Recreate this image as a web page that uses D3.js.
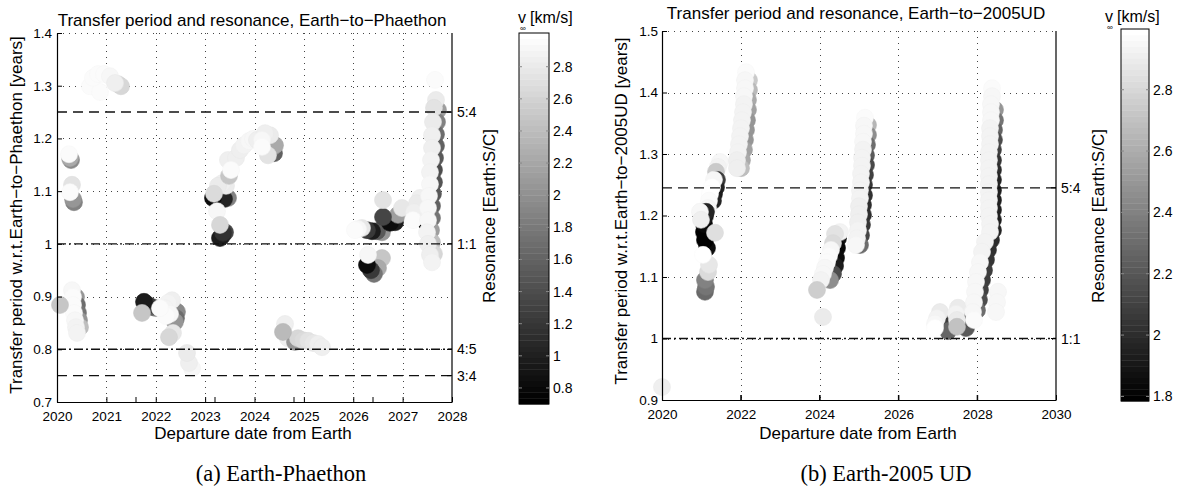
<!DOCTYPE html>
<html><head><meta charset="utf-8">
<script src="https://cdn.jsdelivr.net/npm/d3@7"></script>
<style>
body{margin:0;background:#fff}
svg{display:block}
text{font-family:"Liberation Sans",Arial,Helvetica,sans-serif;fill:#000}
</style>
</head><body>
<svg id="c" width="1182" height="492"></svg>
<script>
// ---------- DATA ----------
// [departure year, transfer period (yr), v_inf (km/s)] in drawing order
const phaethonPts = [
 // ~2021, 1.3
 [2021.235,1.303,2.68],[2021.296,1.299,2.64],[2020.668,1.299,2.97],[2020.871,1.288,2.97],[2020.729,1.315,2.96],[2020.830,1.322,2.96],[2020.952,1.322,2.94],[2021.073,1.318,2.91],[2021.175,1.305,2.86],
 // 2020.25, 1.16
 [2020.284,1.159,1.96],[2020.263,1.163,2.23],[2020.243,1.170,2.96],
 // 2020.3, 1.09
 [2020.344,1.079,1.87],[2020.324,1.085,2.05],[2020.304,1.112,2.73],[2020.263,1.098,2.96],
 // 2023.2, 1.09
 [2023.463,1.087,1.87],[2023.382,1.085,1.06],[2023.159,1.087,0.84],[2023.423,1.110,2.82],[2023.342,1.115,2.86],[2023.261,1.110,2.82],[2023.180,1.095,2.68],
 // 2023.3, 1.02
 [2023.241,1.062,2.91],[2023.403,1.022,1.33],[2023.342,1.015,1.06],[2023.301,1.011,0.97],[2023.362,1.021,1.15],[2023.301,1.036,2.64],
 // 2023.5-2024, 1.13-1.2
 [2023.484,1.129,2.50],[2023.463,1.159,2.86],[2023.625,1.163,2.85],[2023.706,1.178,2.86],[2023.787,1.187,2.88],[2023.889,1.195,2.91],[2023.970,1.199,2.91],[2024.051,1.197,2.86],[2023.524,1.140,2.96],
 // 2024.2-2024.4
 [2024.395,1.172,1.60],[2024.354,1.182,1.87],[2024.415,1.187,2.23],[2024.314,1.206,2.82],[2024.213,1.210,2.86],[2024.152,1.197,2.91],[2024.273,1.168,2.73],[2024.152,1.184,2.96],
 // 2026.0-2026.6, 1.02
 [2026.582,1.022,2.05],[2026.481,1.024,1.51],[2026.380,1.024,0.97],[2026.278,1.026,1.24],[2026.177,1.030,2.77],[2026.096,1.028,2.91],[2026.035,1.026,2.96],
 // 2026.6-2027, 1.04-1.08
 [2026.846,1.041,0.97],[2026.744,1.040,0.84],[2026.906,1.055,2.14],[2026.987,1.068,2.77],[2026.603,1.051,1.33],[2026.603,1.083,2.73],
 // 2027.2-2027.5, 1.04-1.09
 [2027.473,1.041,0.88],[2027.433,1.049,0.97],[2027.514,1.057,1.60],[2027.494,1.068,2.14],[2027.352,1.087,2.86],[2027.291,1.077,2.82],[2027.230,1.060,2.86],[2027.210,1.045,2.94],
 // 2027.6 stack (dark edge)
 [2027.716,1.254,2.14],[2027.696,1.231,1.87],[2027.676,1.208,1.69],[2027.676,1.186,1.60],[2027.656,1.163,1.51],[2027.635,1.140,1.42],[2027.635,1.117,1.47],[2027.615,1.095,1.51],[2027.595,1.072,1.60],[2027.595,1.049,1.78],[2027.575,1.026,2.14],[2027.595,1.003,2.41],[2027.635,0.981,2.64],
 // 2027.6 stack (light)
 [2027.656,1.311,2.94],[2027.676,1.273,2.82],[2027.635,1.258,2.73],[2027.615,1.231,2.82],[2027.595,1.206,2.85],[2027.595,1.182,2.86],[2027.575,1.159,2.88],[2027.554,1.136,2.90],[2027.554,1.113,2.91],[2027.534,1.091,2.92],[2027.514,1.068,2.93],[2027.514,1.045,2.92],[2027.494,1.022,2.89],[2027.514,1.000,2.86],[2027.554,0.979,2.86],[2027.595,0.965,2.88],
 // 2026.3, 0.95
 [2026.582,0.973,2.50],[2026.501,0.954,2.23],[2026.420,0.943,1.78],[2026.359,0.950,1.24],[2026.278,0.960,0.84],[2026.299,0.979,2.91],
 // 2020.3, 0.83-0.91
 [2020.385,0.899,2.05],[2020.405,0.884,1.69],[2020.425,0.869,1.78],[2020.446,0.855,2.05],[2020.466,0.842,2.41],
 [2020.304,0.912,2.91],[2020.324,0.899,2.94],[2020.324,0.884,2.96],[2020.344,0.869,2.94],[2020.365,0.855,2.92],[2020.385,0.842,2.90],[2020.405,0.831,2.88],
 [2020.061,0.884,2.50],
 // 2021.8, 0.88
 [2022.005,0.878,2.14],[2021.924,0.880,1.60],[2021.843,0.884,1.24],[2021.762,0.890,0.97],[2021.722,0.869,2.50],
 // 2022.1-2022.5, 0.85-0.9
 [2022.430,0.871,1.96],[2022.410,0.859,1.69],[2022.390,0.852,2.05],[2022.329,0.893,2.86],[2022.248,0.888,2.88],[2022.187,0.878,2.90],[2022.289,0.867,2.92],[2022.208,0.863,2.94],[2022.086,0.878,2.96],
 // 2022.3, 0.82
 [2022.349,0.831,2.77],[2022.268,0.823,2.64],
 // 2022.7, 0.78
 [2022.734,0.764,2.91],[2022.673,0.774,2.85],[2022.633,0.793,2.82],
 // 2024.6-2025.4, 0.80-0.84
 [2024.618,0.848,2.85],[2024.678,0.821,2.83],[2024.820,0.814,2.05],[2024.881,0.821,2.64],[2024.982,0.817,2.68],[2025.084,0.816,2.75],[2025.185,0.812,2.79],[2025.286,0.810,2.83],[2025.367,0.804,2.86],[2024.577,0.833,2.37]
];
const ud2005Pts = [
 [2020.000,0.921,2.92],
 // 2021 cluster top
 [2021.472,1.287,2.95],[2021.421,1.279,2.93],[2021.371,1.271,2.74],
 [2021.396,1.258,2.07],[2021.371,1.246,1.97],[2021.320,1.235,1.92],[2021.294,1.224,1.97],
 [2021.320,1.258,2.95],[2021.269,1.246,2.98],[2021.218,1.235,2.98],[2021.193,1.224,2.97],[2021.168,1.212,2.95],
 // 2021 dark core
 [2021.142,1.147,1.85],[2021.091,1.160,1.80],[2021.066,1.173,1.80],[2021.066,1.186,1.83],[2021.091,1.199,1.90],[2021.117,1.206,1.97],
 [2020.964,1.206,2.95],[2020.990,1.193,2.92],[2021.345,1.172,2.83],
 // 2021 lower
 [2021.091,1.076,2.28],[2021.117,1.084,2.35],[2021.091,1.095,2.40],[2021.168,1.108,2.81],[2021.193,1.120,2.88],[2021.041,1.136,2.98],
 // 2022 column (shade, then light)
 [2022.208,1.420,2.74],[2022.208,1.404,2.66],[2022.183,1.388,2.59],[2022.183,1.372,2.55],[2022.157,1.355,2.50],[2022.132,1.339,2.50],[2022.107,1.323,2.50],[2022.081,1.307,2.55],[2022.030,1.290,2.59],[2022.005,1.277,2.69],
 [2022.132,1.433,2.97],[2022.107,1.420,2.96],[2022.107,1.407,2.95],[2022.081,1.394,2.95],[2022.081,1.381,2.94],[2022.056,1.368,2.94],[2022.030,1.355,2.94],[2022.005,1.342,2.93],[2021.980,1.329,2.93],[2021.954,1.316,2.93],[2021.929,1.303,2.93],[2021.904,1.290,2.92],[2021.904,1.277,2.91],
 // 2024 cluster
 [2024.468,1.163,1.88],[2024.442,1.147,1.83],[2024.417,1.131,1.85],[2024.392,1.118,1.92],[2024.341,1.105,2.16],[2024.265,1.095,2.45],
 [2024.518,1.173,2.93],[2024.391,1.170,2.86],[2024.340,1.155,2.81],[2024.289,1.144,2.95],[2024.239,1.134,2.97],[2024.188,1.124,2.97],[2024.137,1.115,2.96],[2024.086,1.105,2.95],[2024.036,1.095,2.93],[2023.934,1.079,2.76],[2024.086,1.035,2.89],
 // 2025 column (shade, then light)
 [2025.228,1.347,2.64],[2025.228,1.331,2.45],[2025.203,1.315,2.31],[2025.178,1.298,2.21],[2025.178,1.282,2.14],[2025.152,1.266,2.09],[2025.127,1.250,2.04],[2025.127,1.233,2.02],[2025.102,1.217,2.00],[2025.102,1.201,2.00],[2025.076,1.185,2.04],[2025.051,1.168,2.11],[2025.025,1.152,2.31],
 [2025.152,1.359,2.97],[2025.127,1.346,2.96],[2025.127,1.333,2.95],[2025.102,1.320,2.95],[2025.102,1.307,2.94],[2025.076,1.294,2.94],[2025.076,1.281,2.94],[2025.051,1.268,2.94],[2025.051,1.254,2.93],[2025.025,1.241,2.93],[2025.025,1.228,2.93],[2025.000,1.215,2.92],[2025.000,1.202,2.92],[2024.975,1.189,2.92],[2024.975,1.176,2.93],[2024.949,1.163,2.94],[2024.924,1.152,2.95],
 // 2027 cluster near 1:1
 [2027.310,1.030,2.21],[2027.284,1.020,2.07],[2027.259,1.012,2.26],[2027.766,1.037,2.07],[2027.741,1.027,1.97],[2027.716,1.017,2.21],
 [2027.056,1.043,2.90],[2026.980,1.033,2.93],[2026.929,1.024,2.95],[2026.929,1.017,2.98],
 [2027.513,1.050,2.90],[2027.462,1.040,2.93],[2027.487,1.030,2.90],[2027.487,1.019,2.71],
 // 2028 column (shade, then light)
 [2028.452,1.372,2.50],[2028.452,1.355,2.35],[2028.426,1.339,2.26],[2028.426,1.323,2.16],[2028.401,1.307,2.09],[2028.401,1.290,2.04],[2028.401,1.274,2.00],[2028.401,1.258,1.97],[2028.401,1.241,1.95],[2028.401,1.225,1.95],[2028.401,1.209,1.95],[2028.401,1.193,1.95],[2028.401,1.176,1.97],[2028.350,1.160,2.00],[2028.274,1.144,2.02],[2028.223,1.128,2.04],[2028.173,1.111,2.07],[2028.122,1.095,2.07],[2028.071,1.079,2.09],[2028.046,1.063,2.16],[2027.995,1.046,2.31],
 [2028.376,1.407,2.97],[2028.376,1.394,2.96],[2028.350,1.381,2.95],[2028.350,1.368,2.95],[2028.350,1.355,2.95],[2028.325,1.342,2.94],[2028.325,1.329,2.94],[2028.325,1.316,2.94],[2028.299,1.303,2.94],[2028.299,1.290,2.94],[2028.299,1.277,2.93],[2028.299,1.264,2.93],[2028.299,1.251,2.93],[2028.299,1.238,2.93],[2028.299,1.225,2.93],[2028.299,1.212,2.93],[2028.299,1.199,2.93],[2028.325,1.186,2.93],[2028.325,1.173,2.93],
 [2028.198,1.157,2.94],[2028.122,1.141,2.94],[2028.071,1.124,2.95],[2028.020,1.108,2.95],[2027.970,1.092,2.95],[2027.944,1.076,2.96],[2027.919,1.059,2.96],[2027.893,1.043,2.96],[2027.919,1.030,2.97],
 [2028.528,1.076,2.95],[2028.503,1.059,2.96],[2028.477,1.043,2.96]
];
const phaethonXTicks = [2020,2021,2022,2023,2024,2025,2026,2027,2028];
const phaethonYTicks = [0.7,0.8,0.9,1.0,1.1,1.2,1.3,1.4];
const phaethonResValues = [1.25,1.0,0.8,0.75];
const phaethonResLabels = ["5:4","1:1","4:5","3:4"];
const phaethonCbTicks = [0.8,1,1.2,1.4,1.6,1.8,2,2.2,2.4,2.6,2.8];

const udXTicks = [2020,2022,2024,2026,2028,2030];
const udYTicks = [0.9,1.0,1.1,1.2,1.3,1.4,1.5];
const udResValues = [1.245,1.0];
const udResLabels = ["5:4","1:1"];
const udCbTicks = [1.8,2,2.2,2.4,2.6,2.8];

// ticks of the overlaid (resonance) axes' own x axis, on a 0..1 scale
const resAxisXTicks = [0.2,0.4,0.6,0.8];

const titles = ["Transfer period and resonance, Earth\u2212to\u2212Phaethon","Transfer period and resonance, Earth\u2212to\u22122005UD"];
const yLabels = ["Transfer period w.r.t.Earth\u2212to\u2212Phaethon [years]","Transfer period w.r.t.Earth\u2212to\u22122005UD [years]"];
const captions = ["(a) Earth-Phaethon","(b) Earth-2005 UD"];

// ---------- DRAW ----------
const svg = d3.select("#c");
const dashFor = l => (l === "1:1" || l === "4:5") ? "9,3,2,3" : "10,6";

function grayOf(c, v){
  const t = c(v);
  const k = Math.min(63, Math.floor(t*64));
  const g = Math.round(k/63*255);
  return `rgb(${g},${g},${g})`;
}

function drawPanel(cfg){
  const x = d3.scaleLinear().domain(cfg.xDomain).range([cfg.left, cfg.right]);
  const y = d3.scaleLinear().domain(cfg.yDomain).range([cfg.bottom, cfg.top]);
  const x2 = d3.scaleLinear().domain([0,1]).range([cfg.left, cfg.right]);
  const c = d3.scaleLinear().domain(cfg.cDomain).range([0,1]).clamp(true);
  const g = svg.append("g");
  const px = v => Math.round(v)+0.5;

  // grid (dotted)
  g.append("g").selectAll("line").data(cfg.xTicks.filter(t=>t>cfg.xDomain[0] && t<cfg.xDomain[1])).join("line")
    .attr("x1",d=>px(x(d))).attr("x2",d=>px(x(d))).attr("y1",cfg.top).attr("y2",cfg.bottom)
    .attr("stroke","#444").attr("stroke-width",1).attr("stroke-dasharray","1,5");
  g.append("g").selectAll("line").data(cfg.yTicks.filter(t=>t>cfg.yDomain[0])).join("line")
    .attr("y1",d=>px(y(d))).attr("y2",d=>px(y(d))).attr("x1",cfg.left).attr("x2",cfg.right)
    .attr("stroke","#444").attr("stroke-width",1).attr("stroke-dasharray","1,5");

  // scatter
  g.append("g").selectAll("circle").data(cfg.points).join("circle")
    .attr("cx",d=>x(d[0])).attr("cy",d=>y(d[1])).attr("r",8.5)
    .attr("fill",d=>grayOf(c,d[2]))
    .attr("stroke",d=>d3.color(grayOf(c,d[2])).darker(0.06))
    .attr("stroke-width",0.6);

  // resonance lines
  g.append("g").selectAll("line").data(cfg.resValues).join("line")
    .attr("x1",cfg.left).attr("x2",cfg.right)
    .attr("y1",d=>y(d)).attr("y2",d=>y(d))
    .attr("stroke","#111").attr("stroke-width",1.4)
    .attr("stroke-dasharray",(d,i)=>dashFor(cfg.resLabels[i]));

  // axes
  const fmtY = d => String(+d.toFixed(2));
  const ax = g.append("g").attr("transform",`translate(${cfg.left},0)`)
    .call(d3.axisLeft(y).tickValues(cfg.yTicks).tickSize(-5).tickSizeOuter(0).tickPadding(cfg.yPad).tickFormat(fmtY));
  const bx = g.append("g").attr("transform",`translate(0,${cfg.bottom})`)
    .call(d3.axisBottom(x).tickValues(cfg.xTicks).tickSize(-5).tickSizeOuter(0).tickPadding(cfg.xPad).tickFormat(d3.format("d")));
  [ax,bx].forEach(a=>{
    a.attr("font-family",null).attr("font-size",null);
    a.selectAll("text").attr("font-size","13.5px");
    a.select(".domain").attr("stroke","#000").attr("stroke-width",1.2);
    a.selectAll(".tick line").attr("stroke","#000");
  });
  // overlaid axes' bottom ticks
  g.append("g").selectAll("line").data(resAxisXTicks).join("line")
    .attr("x1",d=>x2(d)).attr("x2",d=>x2(d)).attr("y1",cfg.bottom).attr("y2",cfg.bottom-5).attr("stroke","#000");

  // right resonance axis
  g.append("line").attr("x1",cfg.right).attr("x2",cfg.right).attr("y1",cfg.top).attr("y2",cfg.bottom)
    .attr("stroke","#000").attr("stroke-width",1.2);
  g.append("g").selectAll("line").data(cfg.resValues).join("line")
    .attr("x1",cfg.right-5).attr("x2",cfg.right).attr("y1",d=>y(d)).attr("y2",d=>y(d)).attr("stroke","#000");
  g.append("g").selectAll("text").data(cfg.resValues).join("text")
    .attr("x",cfg.right+5).attr("y",d=>y(d)).attr("dy","0.36em").attr("font-size","14px")
    .text((d,i)=>cfg.resLabels[i]);

  // labels
  g.append("text").attr("x",cfg.titleX).attr("y",cfg.titleY).attr("text-anchor","middle").attr("font-size","17px").text(cfg.title);
  g.append("text").attr("x",cfg.xLabelX).attr("y",439).attr("text-anchor","middle").attr("font-size","17px").text("Departure date from Earth");
  g.append("text").attr("transform",`translate(${cfg.yLabelX},${cfg.yLabelY}) rotate(-90)`).attr("text-anchor","middle").attr("font-size","17px").text(cfg.yLabel);
  g.append("text").attr("transform",`translate(${cfg.resLabelX},216) rotate(-90)`).attr("text-anchor","middle").attr("font-size","17px").text("Resonance [Earth:S/C]");
  g.append("text").attr("x",cfg.captionX).attr("y",481).attr("text-anchor","middle")
    .style("font-family","'Liberation Serif','Times New Roman',serif").attr("font-size","22.5px").text(cfg.caption);

  // colorbar
  const cy = d3.scaleLinear().domain(cfg.cDomain).range([cfg.cbBottom, cfg.cbTop]);
  const nb = 64, h = (cfg.cbBottom-cfg.cbTop)/nb;
  const cb = g.append("g");
  cb.selectAll("rect").data(d3.range(nb)).join("rect")
    .attr("x",cfg.cbLeft).attr("width",cfg.cbRight-cfg.cbLeft)
    .attr("y",i=>cfg.cbBottom-(i+1)*h).attr("height",h+0.4)
    .attr("fill",i=>{const v=Math.round(i/63*255);return `rgb(${v},${v},${v})`;});
  cb.append("rect").attr("x",cfg.cbLeft).attr("y",cfg.cbTop).attr("width",cfg.cbRight-cfg.cbLeft).attr("height",cfg.cbBottom-cfg.cbTop)
    .attr("fill","none").attr("stroke","#000").attr("stroke-width",1);
  cb.selectAll("line.l").data(cfg.cbTicks).join("line").attr("class","l")
    .attr("x1",cfg.cbLeft).attr("x2",cfg.cbLeft+3).attr("y1",d=>cy(d)).attr("y2",d=>cy(d)).attr("stroke","#888");
  cb.selectAll("line.r").data(cfg.cbTicks).join("line").attr("class","r")
    .attr("x1",cfg.cbRight-3).attr("x2",cfg.cbRight).attr("y1",d=>cy(d)).attr("y2",d=>cy(d)).attr("stroke","#888");
  cb.selectAll("text").data(cfg.cbTicks).join("text")
    .attr("x",cfg.cbRight+4).attr("y",d=>cy(d)).attr("dy","0.36em").attr("font-size","14px").text(d=>String(d));
  const lab = g.append("g");
  lab.append("text").attr("x",cfg.vX).attr("y",cfg.vY).attr("font-size","16px").text("v");
  lab.append("text").attr("x",cfg.vX+2).attr("y",cfg.vY+8).attr("font-size","8px").text("\u221e");
  lab.append("text").attr("x",cfg.vX+12).attr("y",cfg.vY).attr("font-size","16px").text("[km/s]");
}

drawPanel({
  points: phaethonPts, xDomain:[2020,2028], yDomain:[0.7,1.4], cDomain:[0.70,3.01],
  xTicks: phaethonXTicks, yTicks: phaethonYTicks, resValues: phaethonResValues, resLabels: phaethonResLabels,
  cbTicks: phaethonCbTicks,
  left:57, right:452, top:33, bottom:402, yPad:5, xPad:9,
  cbLeft:519, cbRight:549, cbTop:33, cbBottom:404,
  title: titles[0], titleX:252, titleY:26, xLabelX:253, yLabel: yLabels[0], yLabelX:22, yLabelY:215,
  resLabelX:495, caption: captions[0], captionX:281, vX:518, vY:23
});
drawPanel({
  points: ud2005Pts, xDomain:[2020,2030], yDomain:[0.9,1.5], cDomain:[1.785,2.998],
  xTicks: udXTicks, yTicks: udYTicks, resValues: udResValues, resLabels: udResLabels,
  cbTicks: udCbTicks,
  left:662, right:1056, top:31, bottom:400, yPad:4, xPad:9,
  cbLeft:1121, cbRight:1149, cbTop:29, cbBottom:401,
  title: titles[1], titleX:856, titleY:19, xLabelX:858, yLabel: yLabels[1], yLabelX:627, yLabelY:211,
  resLabelX:1104, caption: captions[1], captionX:886, vX:1105, vY:22
});
</script>
</body></html>
